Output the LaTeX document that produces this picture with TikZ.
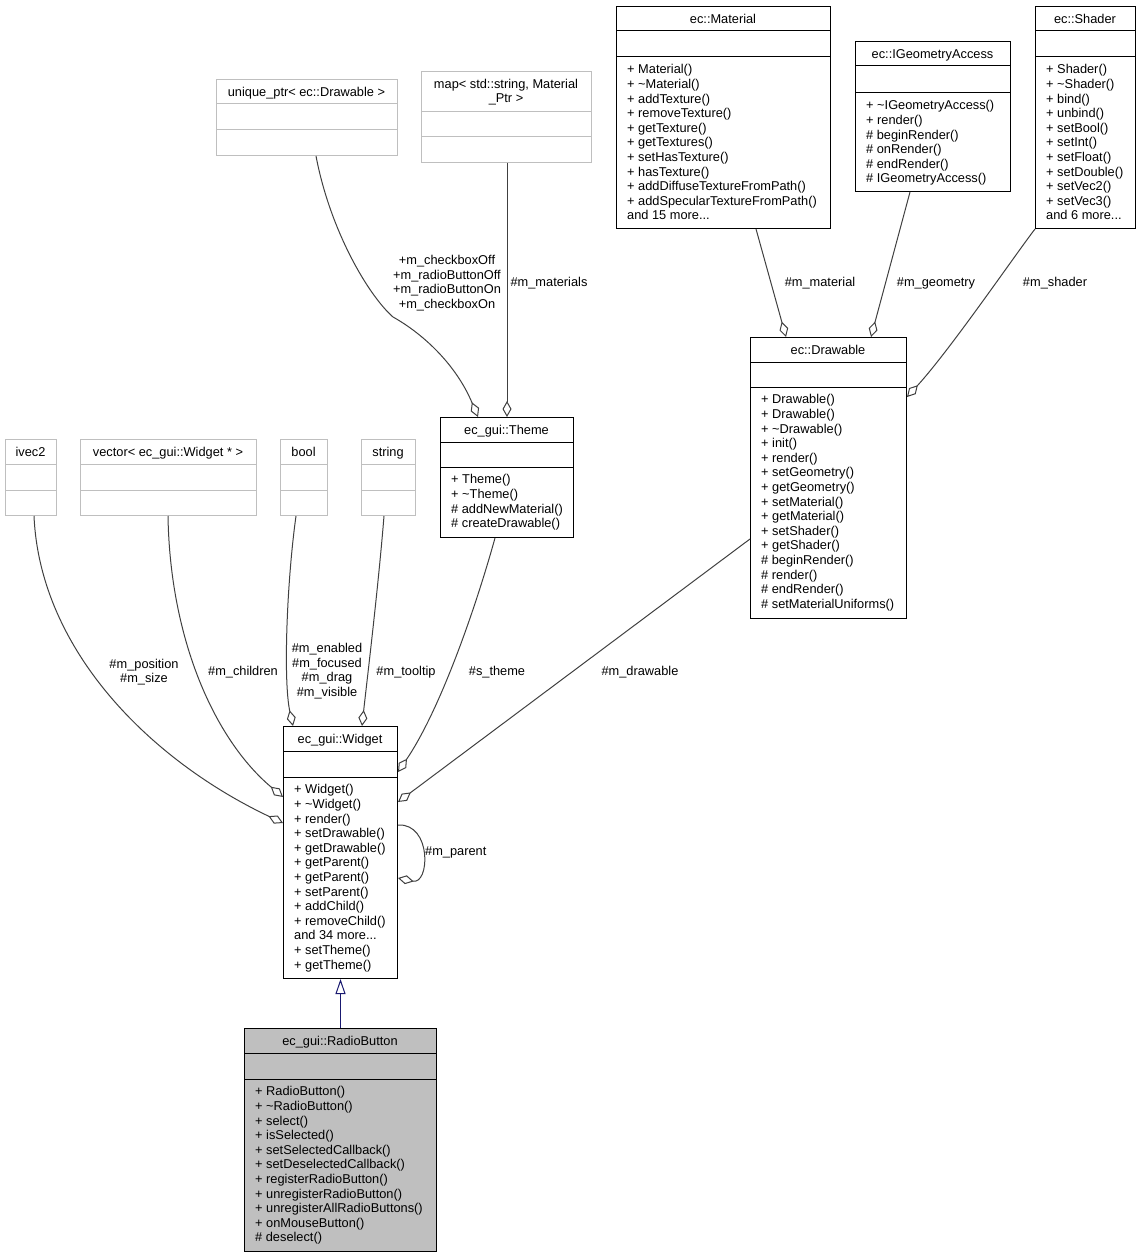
\documentclass[tikz,border=0pt]{standalone}
\usepackage{fontspec}
\setmainfont{Liberation Sans}
\usetikzlibrary{arrows.meta}

\definecolor{edgegrey}{HTML}{404040}
\definecolor{extgrey}{HTML}{BFBFBF}
\definecolor{navy}{HTML}{191970}
\definecolor{radiofill}{HTML}{BFBFBF}

\tikzset{
	cls/.style={draw=black, line width=1pt, fill=white, inner sep=0pt, anchor=north west},
	ext/.style={cls, draw=extgrey},
	sep/.style={draw=black, line width=1pt},
	extsep/.style={draw=extgrey, line width=1pt},
	ttl/.style={font={\fontsize{12.8}{14.6}\selectfont}, inner sep=0pt, text height=9.2pt, text depth=0pt},
	mbr/.style={font={\fontsize{12.8}{14.6}\selectfont}, align=left, inner sep=0pt, anchor=north west,
		execute at begin node={\rule{0pt}{10pt}}},
	lbl/.style={font={\fontsize{12.8}{14.6}\selectfont}, align=center, inner sep=0pt},
	agg/.style={draw=edgegrey, line width=1pt, -{Diamond[open, length=16pt, width=9pt]}},
	inh/.style={draw=navy, line width=1pt, -{Triangle[open, length=15pt, width=10pt]}},
}

\begin{document}
\begin{tikzpicture}[x=1pt,y=-1pt]
	\useasboundingbox (0,0) rectangle (1141,1257);

	% top row
	\node[cls, minimum width=214pt, minimum height=222pt] (material) at (616,6) {};
	\node[ttl] (materialname) at (723,18.5) {ec::Material};
	\draw[sep] ([yshift=-25pt]material.north west) -- ([yshift=-25pt]material.north east);
	\draw[sep] ([yshift=-51pt]material.north west) -- ([yshift=-51pt]material.north east);
	\node[mbr] (materialops) at (627,64.5) {+ Material()\\+ \textasciitilde Material()\\+ addTexture()\\+ removeTexture()\\+ getTexture()\\+ getTextures()\\+ setHasTexture()\\+ hasTexture()\\+ addDiffuseTextureFromPath()\\+ addSpecularTextureFromPath()\\and 15 more...};

	\node[cls, minimum width=155pt, minimum height=150pt] (igeom) at (855,41) {};
	\node[ttl] (igeomname) at (932.5,53.5) {ec::IGeometryAccess};
	\draw[sep] ([yshift=-25pt]igeom.north west) -- ([yshift=-25pt]igeom.north east);
	\draw[sep] ([yshift=-52pt]igeom.north west) -- ([yshift=-52pt]igeom.north east);
	\node[mbr] (igeomops) at (866,100.5) {+ \textasciitilde IGeometryAccess()\\+ render()\\\# beginRender()\\\# onRender()\\\# endRender()\\\# IGeometryAccess()};

	\node[cls, minimum width=100pt, minimum height=222pt] (shader) at (1035,6) {};
	\node[ttl] (shadername) at (1085,18.5) {ec::Shader};
	\draw[sep] ([yshift=-25pt]shader.north west) -- ([yshift=-25pt]shader.north east);
	\draw[sep] ([yshift=-51pt]shader.north west) -- ([yshift=-51pt]shader.north east);
	\node[mbr] (shaderops) at (1046,64.5) {+ Shader()\\+ \textasciitilde Shader()\\+ bind()\\+ unbind()\\+ setBool()\\+ setInt()\\+ setFloat()\\+ setDouble()\\+ setVec2()\\+ setVec3()\\and 6 more...};

	\node[ext, minimum width=181pt, minimum height=76pt] (uptr) at (216,79) {};
	\node[ttl] (uptrname) at (306.5,91.5) {unique\_ptr< ec::Drawable >};
	\draw[extsep] ([yshift=-25pt]uptr.north west) -- ([yshift=-25pt]uptr.north east);
	\draw[extsep] ([yshift=-51pt]uptr.north west) -- ([yshift=-51pt]uptr.north east);

	\node[ext, minimum width=170pt, minimum height=91pt] (map) at (421,71) {};
	\node[lbl] (mapname) at (506,92) {map< std::string, Material\\\_Ptr >};
	\draw[extsep] ([yshift=-41pt]map.north west) -- ([yshift=-41pt]map.north east);
	\draw[extsep] ([yshift=-66pt]map.north west) -- ([yshift=-66pt]map.north east);

	% middle row
	\node[cls, minimum width=156pt, minimum height=281pt] (drawable) at (750,337) {};
	\node[ttl] (drawablename) at (828,349.5) {ec::Drawable};
	\draw[sep] ([yshift=-25pt]drawable.north west) -- ([yshift=-25pt]drawable.north east);
	\draw[sep] ([yshift=-50pt]drawable.north west) -- ([yshift=-50pt]drawable.north east);
	\node[mbr] (drawableops) at (761,394.5) {+ Drawable()\\+ Drawable()\\+ \textasciitilde Drawable()\\+ init()\\+ render()\\+ setGeometry()\\+ getGeometry()\\+ setMaterial()\\+ getMaterial()\\+ setShader()\\+ getShader()\\\# beginRender()\\\# render()\\\# endRender()\\\# setMaterialUniforms()};

	\node[cls, minimum width=133pt, minimum height=120pt] (theme) at (440,417) {};
	\node[ttl] (themename) at (506.5,429.5) {ec\_gui::Theme};
	\draw[sep] ([yshift=-25pt]theme.north west) -- ([yshift=-25pt]theme.north east);
	\draw[sep] ([yshift=-50pt]theme.north west) -- ([yshift=-50pt]theme.north east);
	\node[mbr] (themeops) at (451,474.5) {+ Theme()\\+ \textasciitilde Theme()\\\# addNewMaterial()\\\# createDrawable()};

	\node[ext, minimum width=51pt, minimum height=76pt] (ivec) at (5,439) {};
	\node[ttl] (ivecname) at (30.5,451.5) {ivec2};
	\draw[extsep] ([yshift=-25pt]ivec.north west) -- ([yshift=-25pt]ivec.north east);
	\draw[extsep] ([yshift=-51pt]ivec.north west) -- ([yshift=-51pt]ivec.north east);

	\node[ext, minimum width=176pt, minimum height=76pt] (vec) at (80,439) {};
	\node[ttl] (vecname) at (168,451.5) {vector< ec\_gui::Widget * >};
	\draw[extsep] ([yshift=-25pt]vec.north west) -- ([yshift=-25pt]vec.north east);
	\draw[extsep] ([yshift=-51pt]vec.north west) -- ([yshift=-51pt]vec.north east);

	\node[ext, minimum width=47pt, minimum height=76pt] (bool) at (280,439) {};
	\node[ttl] (boolname) at (303.5,451.5) {bool};
	\draw[extsep] ([yshift=-25pt]bool.north west) -- ([yshift=-25pt]bool.north east);
	\draw[extsep] ([yshift=-51pt]bool.north west) -- ([yshift=-51pt]bool.north east);

	\node[ext, minimum width=54pt, minimum height=76pt] (str) at (361,439) {};
	\node[ttl] (strname) at (388,451.5) {string};
	\draw[extsep] ([yshift=-25pt]str.north west) -- ([yshift=-25pt]str.north east);
	\draw[extsep] ([yshift=-51pt]str.north west) -- ([yshift=-51pt]str.north east);

	% widget and radio button
	\node[cls, minimum width=114pt, minimum height=252pt] (widget) at (283,726) {};
	\node[ttl] (widgetname) at (340,738.5) {ec\_gui::Widget};
	\draw[sep] ([yshift=-25pt]widget.north west) -- ([yshift=-25pt]widget.north east);
	\draw[sep] ([yshift=-51pt]widget.north west) -- ([yshift=-51pt]widget.north east);
	\node[mbr] (widgetops) at (294,784.5) {+ Widget()\\+ \textasciitilde Widget()\\+ render()\\+ setDrawable()\\+ getDrawable()\\+ getParent()\\+ getParent()\\+ setParent()\\+ addChild()\\+ removeChild()\\and 34 more...\\+ setTheme()\\+ getTheme()};

	\node[cls, fill=radiofill, minimum width=192pt, minimum height=223pt] (radio) at (244,1028) {};
	\node[ttl] (radioname) at (340,1040.5) {ec\_gui::RadioButton};
	\draw[sep] ([yshift=-25pt]radio.north west) -- ([yshift=-25pt]radio.north east);
	\draw[sep] ([yshift=-51pt]radio.north west) -- ([yshift=-51pt]radio.north east);
	\node[mbr] (radioops) at (255,1086.5) {+ RadioButton()\\+ \textasciitilde RadioButton()\\+ select()\\+ isSelected()\\+ setSelectedCallback()\\+ setDeselectedCallback()\\+ registerRadioButton()\\+ unregisterRadioButton()\\+ unregisterAllRadioButtons()\\+ onMouseButton()\\\# deselect()};

	% aggregations
	\draw[agg] ([xshift=100pt]uptr.south west) .. controls (330,230) and (368,295) .. (393,317)
		.. controls (420,332) and (455,362) .. ([xshift=38pt]theme.north west);
	\draw[agg] ([xshift=86pt]map.south west) -- ([xshift=67pt]theme.north west);
	\draw[agg] ([xshift=140pt]material.south west) -- ([xshift=36pt]drawable.north west);
	\draw[agg] ([xshift=55pt]igeom.south west) -- ([xshift=121pt]drawable.north west);
	\draw[agg] (shader.south west) .. controls (1015,255) and (950,350) .. ([yshift=-60pt]drawable.north east);
	\draw[agg] ([xshift=29pt]ivec.south west) .. controls (40,650) and (150,760) .. ([yshift=-97pt]widget.north west);
	\draw[agg] ([xshift=88pt]vec.south west) .. controls (170,640) and (215,740) .. ([yshift=-71pt]widget.north west);
	\draw[agg] ([xshift=16pt]bool.south west) .. controls (287,580) and (283,680) .. ([xshift=10pt]widget.north west);
	\draw[agg] ([xshift=23pt]str.south west) .. controls (378,590) and (367,680) .. ([xshift=79pt]widget.north west);
	\draw[agg] ([xshift=55pt]theme.south west) .. controls (475,610) and (440,710) .. ([yshift=-46pt]widget.north east);
	\draw[agg] ([yshift=80pt]drawable.south west) -- ([yshift=-76pt]widget.north east);
	\draw[agg] ([yshift=-99pt]widget.north east) .. controls (432,823) and (430,885) .. ([yshift=-152pt]widget.north east);

	% inheritance
	\draw[inh] (radio.north) -- (widget.south);

	% labels
	\node[lbl] (lbldrawables) at (447,283) {+m\_checkboxOff\\+m\_radioButtonOff\\+m\_radioButtonOn\\+m\_checkboxOn};
	\node[lbl] (lblmaterials) at (549,283) {\#m\_materials};
	\node[lbl] (lblmaterial) at (820,283) {\#m\_material};
	\node[lbl] (lblgeometry) at (936,283) {\#m\_geometry};
	\node[lbl] (lblshader) at (1055,283) {\#m\_shader};
	\node[lbl] (lblposition) at (144,672) {\#m\_position\\\#m\_size};
	\node[lbl] (lblchildren) at (243,672) {\#m\_children};
	\node[lbl] (lblflags) at (327,671) {\#m\_enabled\\\#m\_focused\\\#m\_drag\\\#m\_visible};
	\node[lbl] (lbltooltip) at (406,672) {\#m\_tooltip};
	\node[lbl] (lbltheme) at (497,672) {\#s\_theme};
	\node[lbl] (lbldrawable) at (640,672) {\#m\_drawable};
	\node[lbl, anchor=west] (lblparent) at (425,852) {\#m\_parent};
\end{tikzpicture}
\end{document}
